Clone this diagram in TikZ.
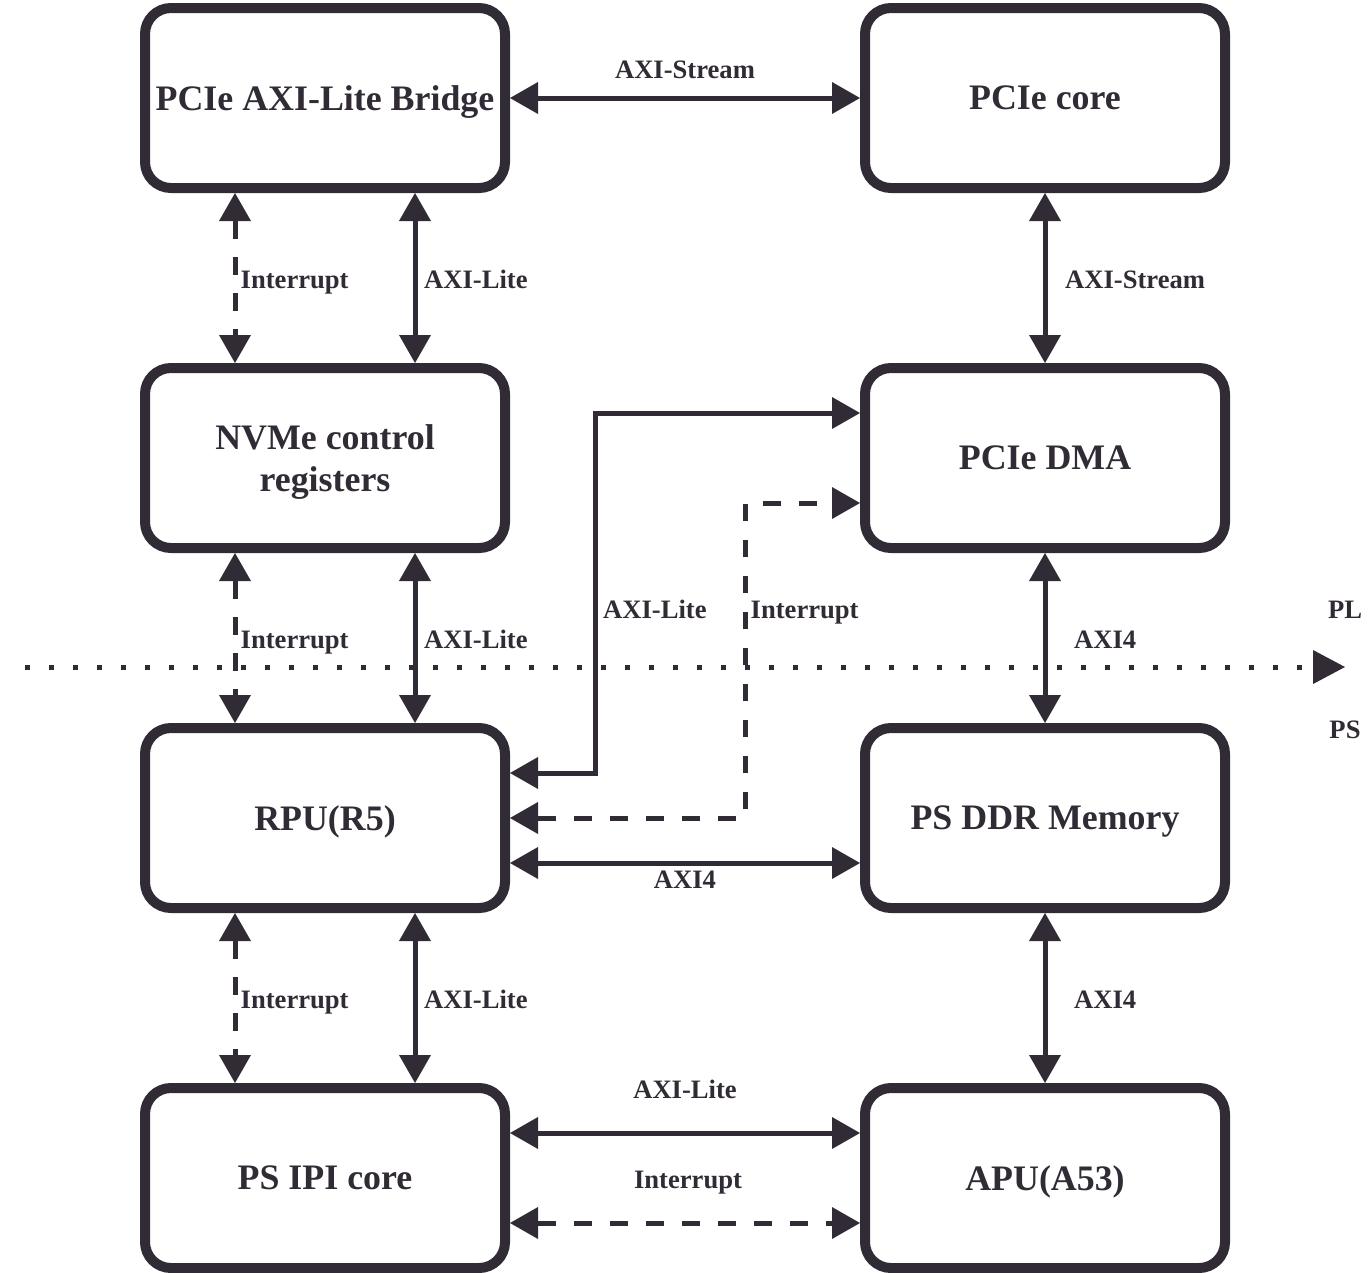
\documentclass[tikz,border=0pt]{standalone}
\usepackage{fontspec}
\setmainfont{Liberation Serif}
\usetikzlibrary{arrows.meta}
\definecolor{ink}{RGB}{48,43,52}
\begin{document}
\begin{tikzpicture}[x=1bp,y=-1bp,
  box/.style={draw=ink, line width=10bp, rounded corners=26bp, minimum width=360bp, minimum height=180bp, inner sep=0pt, text=ink, font=\fontsize{36}{42}\selectfont\bfseries, align=center, text depth=0pt},
  tipT/.tip={Triangle[length=28bp,width=32bp,line width=0pt]},
  conn/.style={draw=ink, line width=5bp, tipT-tipT},
  dsh/.style={dash pattern=on 17.5bp off 18.5bp},
  lbl/.style={text=ink, inner sep=0pt, font=\fontsize{26.7}{32}\selectfont\bfseries},
]
\useasboundingbox (0,0) rectangle (1371,1272);

% boxes
\node[box] (bridge) at (325,98) {PCIe AXI-Lite Bridge};
\node[box] (pcore) at (1045,98) {PCIe core};
\node[box] (nvme) at (325,458) {NVMe control\\registers};
\node[box] (dma) at (1045,458) {PCIe DMA};
\node[box] (rpu) at (325,818) {RPU(R5)};
\node[box] (ddr) at (1045,818) {PS DDR Memory};
\node[box] (ipi) at (325,1178) {PS IPI core};
\node[box] (apu) at (1045,1178) {APU(A53)};

% PL / PS boundary
\coordinate (plL) at (25,667);
\coordinate (plR) at (1345,667);
\draw[ink, line width=5bp, dash pattern=on 5bp off 19bp, -{Triangle[length=32bp,width=34bp,line width=0pt]}] (plL) -- (plR);

% connectors
\draw[conn] (bridge.east) -- (pcore.west);
\draw[conn,dsh] ([xshift=-90bp]bridge.south) -- ([xshift=-90bp]nvme.north);
\draw[conn] ([xshift=90bp]bridge.south) -- ([xshift=90bp]nvme.north);
\draw[conn] (pcore.south) -- (dma.north);
\draw[conn,dsh] ([xshift=-90bp]nvme.south) -- ([xshift=-90bp]rpu.north);
\draw[conn] ([xshift=90bp]nvme.south) -- ([xshift=90bp]rpu.north);
\draw[conn] (dma.south) -- (ddr.north);
\draw[conn] ([yshift=45bp]rpu.east) -- ++(85,0) |- ([yshift=45bp]dma.west);
\draw[conn,dsh] (rpu.east) -- ++(235,0) |- ([yshift=-45bp]dma.west);
\draw[conn] ([yshift=-45bp]rpu.east) -- ([yshift=-45bp]ddr.west);
\draw[conn,dsh] ([xshift=-90bp]rpu.south) -- ([xshift=-90bp]ipi.north);
\draw[conn] ([xshift=90bp]rpu.south) -- ([xshift=90bp]ipi.north);
\draw[conn] (ddr.south) -- (apu.north);
\draw[conn] ([yshift=45bp]ipi.east) -- ([yshift=45bp]apu.west);
\draw[conn,dsh] ([yshift=-45bp]ipi.east) -- ([yshift=-45bp]apu.west);

% labels
\node[lbl, anchor=base] (l1) at (685,78) {AXI-Stream};
\node[lbl, anchor=base west] (l2) at (240.5,288) {Interrupt};
\node[lbl, anchor=base west] (l3) at (424,288) {AXI-Lite};
\node[lbl, anchor=base west] (l4) at (1065,288) {AXI-Stream};
\node[lbl, anchor=base west] (l5) at (240.5,648) {Interrupt};
\node[lbl, anchor=base west] (l6) at (424,648) {AXI-Lite};
\node[lbl, anchor=base west] (l7) at (603,618) {AXI-Lite};
\node[lbl, anchor=base west] (l8) at (750.5,618) {Interrupt};
\node[lbl, anchor=base west] (l9) at (1074,648) {AXI4};
\node[lbl, anchor=base] (pl) at (1345,618) {PL};
\node[lbl, anchor=base] (ps) at (1345,738) {PS};
\node[lbl, anchor=base] (l10) at (685,888) {AXI4};
\node[lbl, anchor=base west] (l11) at (240.5,1008) {Interrupt};
\node[lbl, anchor=base west] (l12) at (424,1008) {AXI-Lite};
\node[lbl, anchor=base west] (l13) at (1074,1008) {AXI4};
\node[lbl, anchor=base] (l14) at (685,1098) {AXI-Lite};
\node[lbl, anchor=base] (l15) at (688,1188) {Interrupt};
\end{tikzpicture}
\end{document}
